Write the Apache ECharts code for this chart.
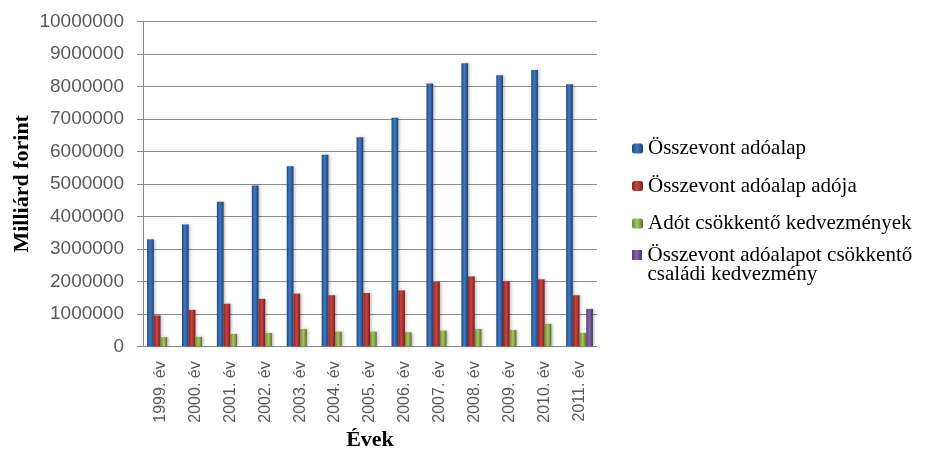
<!DOCTYPE html>
<html>
<head>
<meta charset="utf-8">
<script src="https://cdn.jsdelivr.net/npm/echarts@6/dist/echarts.min.js"></script>
<style>html,body{margin:0;padding:0;background:#fff}#c{width:934px;height:450px}</style>
</head>
<body>
<div id="c"></div>
<script>
const categories = ['1999. év','2000. év','2001. év','2002. év','2003. év','2004. év','2005. év','2006. év','2007. év','2008. év','2009. év','2010. év','2011. év'];
const osszevontAdoalap = [3290000,3750000,4450000,4950000,5540000,5890000,6430000,7030000,8090000,8710000,8340000,8500000,8060000];
const osszevontAdoalapAdoja = [950000,1120000,1310000,1460000,1620000,1570000,1640000,1720000,1980000,2150000,2000000,2060000,1570000];
const adotCsokkentoKedvezmenyek = [280000,290000,380000,410000,530000,450000,450000,430000,480000,530000,500000,690000,410000];
const csaladiKedvezmeny = [null,null,null,null,null,null,null,null,null,null,null,null,1150000];
const seriesNames = ['Összevont adóalap','Összevont adóalap adója','Adót csökkentő kedvezmények','Összevont adóalapot csökkentő családi kedvezmény'];
const yTicks = {min:0, max:10000000, interval:1000000};

function grad(a,b,c){
  return new echarts.graphic.LinearGradient(0,0,1,0,[{offset:0,color:a},{offset:0.45,color:b},{offset:1,color:c}]);
}
const colors = [
  grad('#22497c','#3f7ac6','#1d406c'),
  grad('#8a2421','#cc433f','#761e1c'),
  grad('#6a8531','#a8c760','#5a7229'),
  grad('#563f72','#8766ae','#483563')
];
const datasets = [osszevontAdoalap, osszevontAdoalapAdoja, adotCsokkentoKedvezmenyek, csaladiKedvezmeny];
const serif = '"Liberation Serif", serif';
const sans = '"Liberation Sans", sans-serif';
const legendRich = {s:{fontFamily:serif, fontSize:21, color:'#000', lineHeight:19}};

const chart = echarts.init(document.getElementById('c'));
chart.setOption({
  animation:false,
  textStyle:{fontFamily:serif},
  grid:{left:143, top:21.3, right:337, bottom:103.7, containLabel:false, outerBoundsMode:'none'},
  xAxis:{
    type:'category', data:categories,
    axisLine:{lineStyle:{color:'#868686'}},
    axisTick:{show:false},
    axisLabel:{rotate:90, color:'#595959', fontFamily:sans, fontSize:16, margin:15, interval:0},
    name:'Évek', nameLocation:'middle', nameGap:83, nameMoveOverlap:false,
    nameTextStyle:{fontFamily:serif, fontWeight:'bold', fontSize:22, color:'#000'}
  },
  yAxis:{
    type:'value', min:yTicks.min, max:yTicks.max, interval:yTicks.interval,
    axisLine:{show:true, lineStyle:{color:'#868686'}},
    axisTick:{show:true, length:6, lineStyle:{color:'#868686'}},
    splitLine:{lineStyle:{color:'#8c8c8c'}},
    axisLabel:{color:'#595959', fontFamily:sans, fontSize:19, margin:19, formatter:function(v){return String(v);}},
    name:'Milliárd forint', nameLocation:'middle', nameGap:110, nameRotate:90, nameMoveOverlap:false,
    nameTextStyle:{fontFamily:serif, fontWeight:'bold', fontSize:22, color:'#000'}
  },
  legend:[{
    orient:'vertical', left:627, top:133,
    itemWidth:11, itemHeight:10, itemGap:16.5,
    data:seriesNames.slice(0,3),
    formatter:function(n){return '{s|'+n+'}';},
    textStyle:{fontFamily:serif, fontSize:21, color:'#000', lineHeight:20, rich:legendRich}
  },{
    orient:'vertical', left:627, top:240,
    itemWidth:11, itemHeight:30,
    icon:'path://M0,0L10,0L10,10L0,10Z M0,29.99L0.01,29.99L0.01,30L0,30Z',
    data:[seriesNames[3]],
    formatter:function(){return '{s|Összevont adóalapot csökkentő}\n{s|családi kedvezmény}';},
    textStyle:{fontFamily:serif, fontSize:21, color:'#000', lineHeight:19, rich:legendRich}
  }],
  series: datasets.map((d,i)=>({
    name:seriesNames[i], type:'bar', data:d,
    barWidth:6.7, barGap:'0%',
    itemStyle:{color:colors[i], shadowBlur:3, shadowColor:'rgba(0,0,0,0.25)', shadowOffsetX:1.5, shadowOffsetY:0}
  }))
});
</script>
</body>
</html>
